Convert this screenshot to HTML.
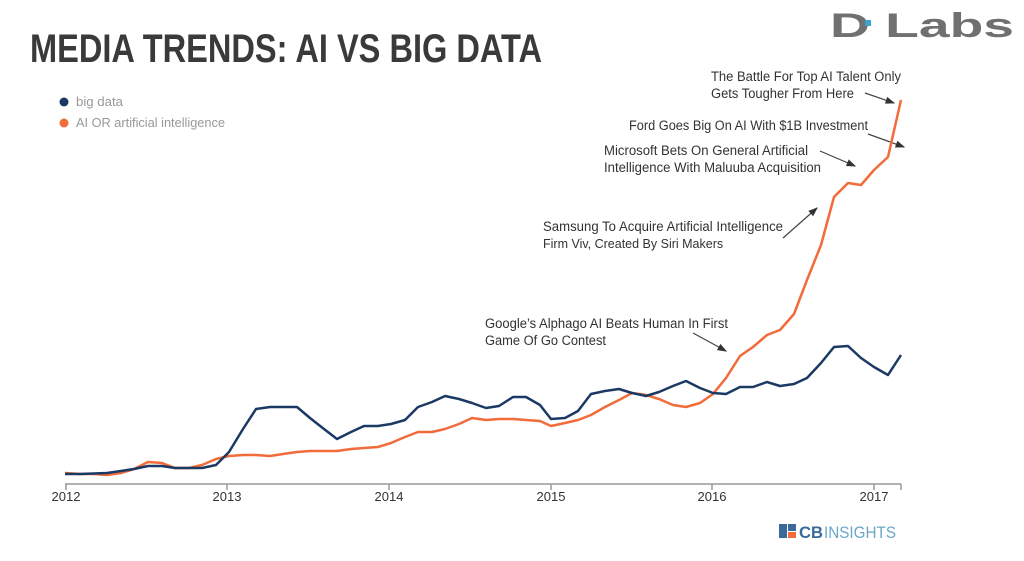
<!DOCTYPE html>
<html><head><meta charset="utf-8"><style>
body{margin:0;background:#fff;width:1024px;height:556px;overflow:hidden;font-family:"Liberation Sans",sans-serif}
</style></head><body>
<svg width="1024" height="556" xmlns="http://www.w3.org/2000/svg" font-family="Liberation Sans, sans-serif">
<text x="30" y="62" font-size="40" font-weight="bold" fill="#3a3a3a" textLength="512" lengthAdjust="spacingAndGlyphs">MEDIA TRENDS: AI VS BIG DATA</text>
<text x="830" y="37" font-size="34" font-weight="bold" fill="#707070" textLength="184" lengthAdjust="spacingAndGlyphs">D  Labs</text>
<rect x="865" y="20" width="6" height="6" fill="#3fa2c8"/>
<circle cx="64" cy="102" r="4.5" fill="#1b3a63"/>
<text x="76" y="106" font-size="13" fill="#999" textLength="47" lengthAdjust="spacingAndGlyphs">big data</text>
<circle cx="64" cy="123" r="4.5" fill="#f26b3a"/>
<text x="76" y="127" font-size="13" fill="#999" textLength="149" lengthAdjust="spacingAndGlyphs">AI OR artificial intelligence</text>
<g font-size="13.5" fill="#333">
<text x="711" y="81" textLength="190" lengthAdjust="spacingAndGlyphs">The Battle For Top AI Talent Only</text>
<text x="711" y="98" textLength="143" lengthAdjust="spacingAndGlyphs">Gets Tougher From Here</text>
<text x="629" y="130" textLength="239" lengthAdjust="spacingAndGlyphs">Ford Goes Big On AI With $1B Investment</text>
<text x="604" y="155" textLength="204" lengthAdjust="spacingAndGlyphs">Microsoft Bets On General Artificial</text>
<text x="604" y="172" textLength="217" lengthAdjust="spacingAndGlyphs">Intelligence With Maluuba Acquisition</text>
<text x="543" y="231" textLength="240" lengthAdjust="spacingAndGlyphs">Samsung To Acquire Artificial Intelligence</text>
<text x="485" y="328" textLength="243" lengthAdjust="spacingAndGlyphs">Google’s Alphago AI Beats Human In First</text>
<text x="485" y="345" textLength="121" lengthAdjust="spacingAndGlyphs">Game Of Go Contest</text>
</g>
<text x="543" y="248" font-size="12.5" fill="#333">Firm Viv, Created By Siri Makers</text>
<defs><marker id="a" markerWidth="8" markerHeight="8" refX="7" refY="4" orient="auto"><path d="M0,1 L8,4 L0,7z" fill="#333"/></marker></defs>
<g stroke="#444" stroke-width="1.2" marker-end="url(#a)">
<line x1="865" y1="93" x2="894" y2="103"/>
<line x1="868" y1="134" x2="904" y2="147"/>
<line x1="820" y1="151" x2="855" y2="166"/>
<line x1="783" y1="238" x2="817" y2="208"/>
<line x1="693" y1="333" x2="726" y2="351"/>
</g>
<line x1="65" y1="484" x2="901" y2="484" stroke="#999" stroke-width="1.5"/>
<g stroke="#999" stroke-width="1.5">
<line x1="66" y1="484" x2="66" y2="490"/><line x1="227" y1="484" x2="227" y2="490"/><line x1="389" y1="484" x2="389" y2="490"/><line x1="551" y1="484" x2="551" y2="490"/><line x1="712" y1="484" x2="712" y2="490"/><line x1="874" y1="484" x2="874" y2="490"/><line x1="901" y1="484" x2="901" y2="490"/>
</g>
<g font-size="13" fill="#333" text-anchor="middle">
<text x="66" y="501">2012</text><text x="227" y="501">2013</text><text x="389" y="501">2014</text><text x="551" y="501">2015</text><text x="712" y="501">2016</text><text x="874" y="501">2017</text>
</g>
<polyline fill="none" stroke="#f26b3a" stroke-width="2.5" stroke-linejoin="round" points="65,473 80,474 94,474 107,475 121,473 134,469 148,462 162,463 175,468 189,468 202,465 216,459 229,456 243,455 256,455 270,456 283,454 297,452 310,451 324,451 337,451 351,449 364,448 378,447 391,443 405,437 418,432 432,432 445,429 459,424 472,418 486,420 499,419 513,419 526,420 540,421 551,426 565,423 578,420 591,415 605,407 619,400 632,393 646,395 659,399 673,405 686,407 700,403 713,394 726,378 740,356 753,347 767,335 780,330 794,314 807,280 821,245 834,197 848,183 861,185 874,170 888,157 901,100"/>
<polyline fill="none" stroke="#1b3a63" stroke-width="2.5" stroke-linejoin="round" points="65,474 80,474 107,473 121,471 134,469 148,466 162,466 175,468 189,468 202,468 216,465 229,452 243,429 256,409 270,407 283,407 297,407 310,418 324,429 337,439 351,432 364,426 378,426 391,424 405,420 418,407 432,402 445,396 459,399 472,403 486,408 499,406 513,397 526,397 540,405 551,419 565,418 578,411 591,394 605,391 619,389 632,393 646,396 659,392 673,386 686,381 700,388 713,393 726,394 740,387 753,387 767,382 780,386 794,384 807,378 821,363 834,347 848,346 861,358 874,367 888,375 901,355"/>
<rect x="779" y="524" width="8" height="14" fill="#3a6a9a"/><rect x="788" y="524" width="8" height="7" fill="#3a6a9a"/><rect x="788" y="532" width="8" height="6" fill="#f26b3a"/>
<text x="799" y="538" font-size="17" font-weight="bold" fill="#3a6a9a" textLength="24" lengthAdjust="spacingAndGlyphs">CB</text>
<text x="824" y="538" font-size="17" fill="#6aa6c8" textLength="72" lengthAdjust="spacingAndGlyphs">INSIGHTS</text>
</svg>
</body></html>
